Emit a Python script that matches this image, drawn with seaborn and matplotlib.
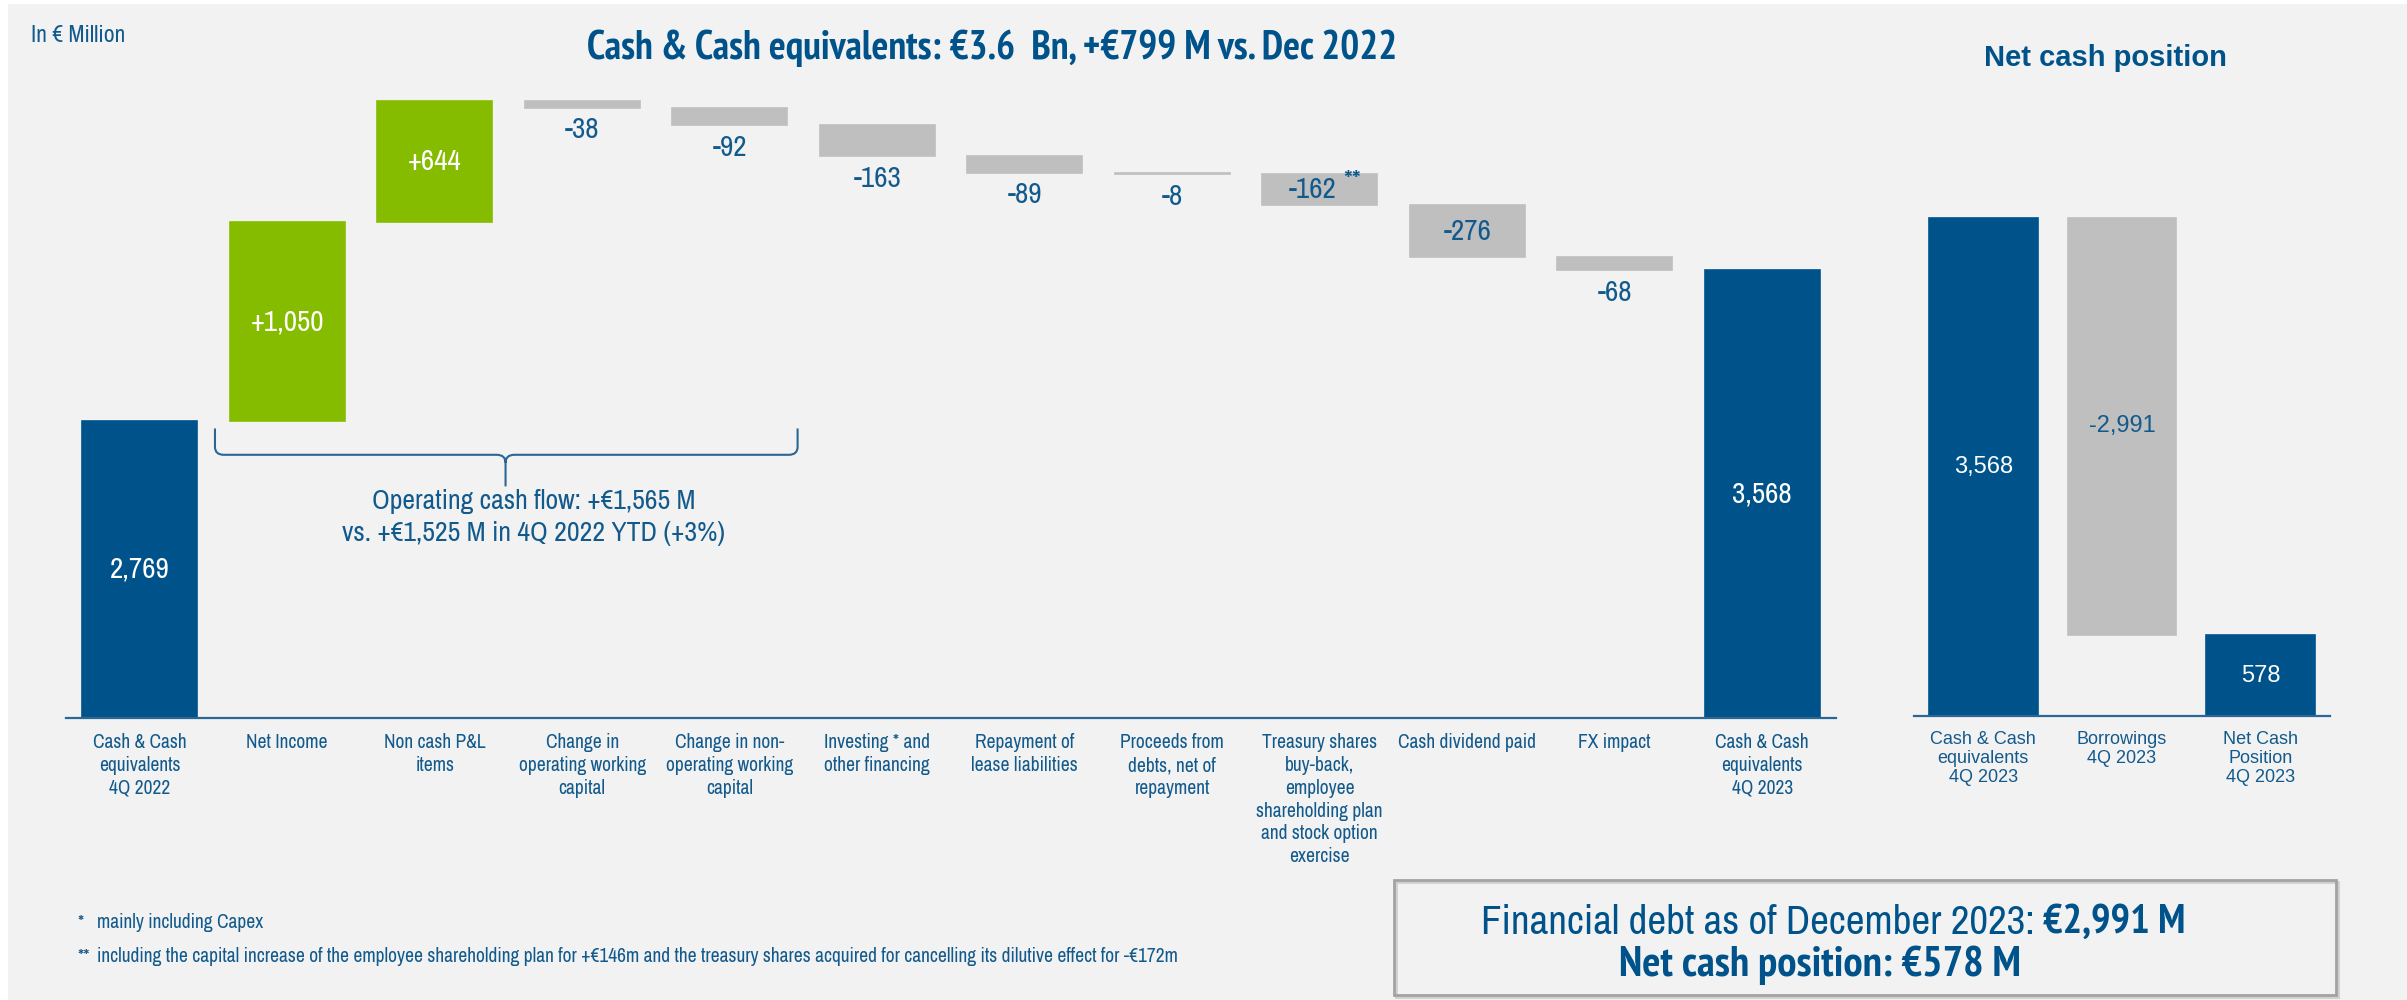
import os
import numpy as np
import pandas as pd
import matplotlib
matplotlib.use("Agg")
import matplotlib.pyplot as plt
from matplotlib.patches import Rectangle, PathPatch
from matplotlib.path import Path
from matplotlib import transforms
from matplotlib import font_manager as fm
import seaborn as sns

# ---------------- data ----------------
bridge_labels = [
    "Cash & Cash\nequivalents\n4Q 2022",
    "Net Income",
    "Non cash P&L\nitems",
    "Change in\noperating working\ncapital",
    "Change in non-\noperating working\ncapital",
    "Investing * and\nother financing",
    "Repayment of\nlease liabilities",
    "Proceeds from\ndebts, net of\nrepayment",
    "Treasury shares\nbuy-back,\nemployee\nshareholding plan\nand stock option\nexercise",
    "Cash dividend paid",
    "FX impact",
    "Cash & Cash\nequivalents\n4Q 2023",
]
bridge_values = [2769, 1050, 644, -38, -92, -163, -89, -8, -162, -276, -68, 3568]
bridge_kind = ["total", "up", "up", "down", "down", "down", "down", "down",
               "down", "down", "down", "total"]

net_labels = ["Cash & Cash\nequivalents\n4Q 2023", "Borrowings\n4Q 2023",
              "Net Cash\nPosition\n4Q 2023"]
net_values = [3568, -2991, 578]
net_kind = ["total", "down", "total"]

title_left = "Cash & Cash equivalents: €3.6  Bn, +€799 M vs. Dec 2022"
title_right = "Net cash position"
unit_note = "In € Million"
ocf_lines = ["Operating cash flow: +€1,565 M",
             "vs. +€1,525 M in 4Q 2022 YTD (+3%)"]
footnotes = [("*", "mainly including Capex"),
             ("**", "including the capital increase of the employee shareholding plan "
                    "for +€146m and the treasury shares acquired for cancelling its "
                    "dilutive effect for -€172m")]
box_line1 = [("Financial debt as of December 2023:", "normal"), ("€2,991 M", "bold")]
box_line2 = [("Net cash position: €578 M", "bold")]

# ---------------- style ----------------
BLUE = "#00538a"
GREEN = "#86bc00"
GREY = "#bfbfbf"
TEXT = "#135a8c"
AXIS = "#2a6696"
BG = "#f2f2f2"
palette = {"total": BLUE, "up": GREEN, "down": GREY}

sns.set_style("white")
WIDE = ["Liberation Sans", "DejaVu Sans"]
plt.rcParams["font.family"] = WIDE

# condensed sans face for the bridge chart texts
_FAM_ORDER = ["liberation", "roboto", "open", "noto", "lato", "inter", "dejavu"]


def _weight_num(w):
    if isinstance(w, (int, float)):
        return float(w)
    return float(fm.weight_dict.get(str(w).lower(), 400))


def _pick_condensed(bold):
    target = 700 if bold else 400
    best, best_key = None, None
    for f in fm.fontManager.ttflist:
        low = (f.name + " " + os.path.basename(f.fname)).lower()
        if any(b in low for b in ("mono", "cjk", "serif", "italic", "oblique", "display")):
            continue
        if f.style != "normal":
            continue
        st = str(f.stretch).lower()
        if "narrow" in low:
            rank = 0
        elif ("semicondensed" in low or "semi-condensed" in low or st == "semi-condensed"):
            rank = 2
        elif ("extracondensed" in low or "extra-condensed" in low or "ultra" in low
              or st in ("extra-condensed", "ultra-condensed")):
            rank = 3
        elif "condensed" in low or st == "condensed":
            rank = 1
        else:
            continue
        fam = next((i for i, k in enumerate(_FAM_ORDER) if k in low), 99)
        key = (rank, abs(_weight_num(f.weight) - target), fam)
        if best_key is None or key < best_key:
            best, best_key = f.fname, key
    return best


_COND = {False: _pick_condensed(False), True: _pick_condensed(True)}


def nf(size, bold=False):
    path = _COND[bold]
    if path:
        return fm.FontProperties(fname=path, size=size)
    return fm.FontProperties(family=WIDE, weight="bold" if bold else "normal",
                             size=size * 0.85)


W, H = 2407, 1000
fig = plt.figure(figsize=(W / 100, H / 100), dpi=100, facecolor="white")
fig.patches.append(Rectangle((8 / W, 0), 1, 1 - 4 / H, transform=fig.transFigure,
                             facecolor=BG, edgecolor="none", zorder=-10))


def fx(px):
    return px / W


def fy(py):
    return 1 - py / H


def waterfall(values, kinds):
    bottoms, heights, running = [], [], 0
    for v, k in zip(values, kinds):
        if k == "total":
            bottoms.append(0)
            heights.append(v)
            running = v
        else:
            bottoms.append(running + min(v, 0))
            heights.append(abs(v))
            running += v
    return np.array(bottoms, float), np.array(heights, float)


def draw_bars(ax, values, kinds, width):
    bottoms, heights = waterfall(values, kinds)
    df = pd.DataFrame({"pos": np.arange(len(values)), "height": heights, "kind": kinds})
    sns.barplot(data=df, x="pos", y="height", hue="kind", palette=palette,
                dodge=False, width=width, legend=False, errorbar=None, ax=ax,
                linewidth=1.2, saturation=1)
    for p in ax.patches:
        i = int(round(p.get_x() + p.get_width() / 2))
        p.set_y(bottoms[i])
        p.set_height(heights[i])
        p.set_edgecolor(p.get_facecolor())
    return bottoms, heights


def style_axis(ax, labels, fprop, linesp):
    n = len(labels)
    ax.set_facecolor("none")
    for s in ["left", "right", "top"]:
        ax.spines[s].set_visible(False)
    ax.spines["bottom"].set_color(AXIS)
    ax.spines["bottom"].set_linewidth(1.6)
    ax.set_xlim(-0.5, n - 0.5)
    ax.set_yticks([])
    ax.set_xticks(np.arange(n))
    ax.set_xticklabels(labels, fontproperties=fprop, color=TEXT, linespacing=linesp)
    ax.set_xticks(np.arange(n + 1) - 0.5, minor=True)
    ax.tick_params(axis="x", which="major", length=0, pad=11)
    ax.tick_params(axis="x", which="minor", length=4, width=1.5, color=AXIS,
                   direction="out")
    ax.set_xlabel("")
    ax.set_ylabel("")


# ---------------- bridge chart ----------------
axL = fig.add_axes([fx(66), fy(718), fx(1836 - 66), (718 - 60) / H])
bL, hL = draw_bars(axL, bridge_values, bridge_kind, 0.78)
axL.set_ylim(1197, 4678)
style_axis(axL, bridge_labels, nf(14), 1.25)

inside_blue = {8, 9}
ylo = axL.get_ylim()[0]
for i, (v, k) in enumerate(zip(bridge_values, bridge_kind)):
    lo = max(bL[i], ylo)
    hi = bL[i] + hL[i]
    txt = f"{v:,}" if k == "total" else f"{v:+,}"
    if k in ("total", "up"):
        axL.text(i, (lo + hi) / 2, txt, ha="center", va="center", color="white",
                 fontproperties=nf(21))
    elif i in inside_blue:
        t = axL.text(i - (0.05 if i == 8 else 0), (lo + hi) / 2, txt, ha="center",
                     va="center", color=TEXT, fontproperties=nf(21))
        if i == 8:
            axL.annotate("**", xy=(1, 1), xycoords=t, xytext=(5, 5),
                         textcoords="offset points", ha="left", va="top",
                         color=TEXT, fontproperties=nf(20))
    else:
        axL.annotate(txt, xy=(i, lo), xytext=(0, -22), textcoords="offset pixels",
                     ha="center", va="center", color=TEXT, fontproperties=nf(21))

# curly brace grouping the operating items
bt = transforms.blended_transform_factory(axL.transData, axL.transAxes)
xl, xr, xm = 0.51, 4.46, 2.48
yt, yl, yb = 0.440, 0.400, 0.352
dx, r = 0.06, 0.012
verts = [(xl, yt), (xl, yl + r), (xl, yl), (xl + dx, yl), (xm - dx, yl), (xm, yl),
         (xm, yl - r), (xm, yb),
         (xm, yl - r), (xm, yl), (xm + dx, yl), (xr - dx, yl), (xr, yl), (xr, yl + r),
         (xr, yt)]
codes = [Path.MOVETO, Path.LINETO, Path.CURVE3, Path.CURVE3, Path.LINETO, Path.CURVE3,
         Path.CURVE3, Path.LINETO,
         Path.MOVETO, Path.CURVE3, Path.CURVE3, Path.LINETO, Path.CURVE3, Path.CURVE3,
         Path.LINETO]
axL.add_patch(PathPatch(Path(verts, codes), transform=bt, facecolor="none",
                        edgecolor=AXIS, lw=1.5, clip_on=False))
for line, yy in zip(ocf_lines, (502, 533)):
    fig.text(fx(534), fy(yy), line, ha="center", va="center", color=TEXT,
             fontproperties=nf(20))

# ---------------- net cash chart ----------------
axR = fig.add_axes([fx(1914), fy(716), fx(2330 - 1914), (716 - 60) / H])
bR, hR = draw_bars(axR, net_values, net_kind, 0.786)
axR.set_ylim(0, 4696)
style_axis(axR, net_labels, fm.FontProperties(family=WIDE, size=13), 1.15)
for i, (v, k) in enumerate(zip(net_values, net_kind)):
    axR.text(i, bR[i] + hR[i] / 2, f"{v:,}", ha="center", va="center",
             color="white" if k == "total" else TEXT, fontsize=17, family=WIDE)

# ---------------- titles and notes ----------------
fig.text(fx(31), fy(36), unit_note, ha="left", va="center", color=TEXT,
         fontproperties=nf(17))
fig.text(fx(992), fy(48), title_left, ha="center", va="center", color=BLUE,
         fontproperties=nf(28.5, bold=True))
fig.text(fx(2105), fy(58), title_right, ha="center", va="center", color=BLUE,
         fontsize=21, fontweight="bold", family=WIDE)

for (mark, note), yy in zip(footnotes, (923, 957)):
    fig.text(fx(77), fy(yy), mark, ha="left", va="center", color=TEXT,
             fontproperties=nf(14))
    fig.text(fx(97), fy(yy), note, ha="left", va="center", color=TEXT,
             fontproperties=nf(14))

# summary box
fig.patches.append(Rectangle((fx(1396), fy(997)), fx(2338 - 1396), (997 - 882) / H,
                             transform=fig.transFigure, facecolor="none",
                             edgecolor="#d0d0d0", lw=2.0, zorder=1))
fig.patches.append(Rectangle((fx(1394), fy(995)), fx(2336 - 1394), (995 - 880) / H,
                             transform=fig.transFigure, facecolor="none",
                             edgecolor="#a3a3a3", lw=2.0, zorder=2))

renderer = fig.canvas.get_renderer()


def mixed_line(parts, cx, cy, size):
    texts = [fig.text(0, fy(cy), s, ha="left", va="center", color=BLUE,
                      fontproperties=nf(size, bold=(w == "bold"))) for s, w in parts]
    widths = [t.get_window_extent(renderer).width for t in texts]
    gap = size * 0.28
    total = sum(widths) + gap * (len(texts) - 1)
    x = cx - total / 2
    for t, w in zip(texts, widths):
        t.set_x(fx(x))
        x += w + gap


mixed_line(box_line1, 1833, 922, 29.5)
mixed_line(box_line2, 1820, 965, 31)

fig.savefig("out.png", dpi=100, facecolor=fig.get_facecolor())
